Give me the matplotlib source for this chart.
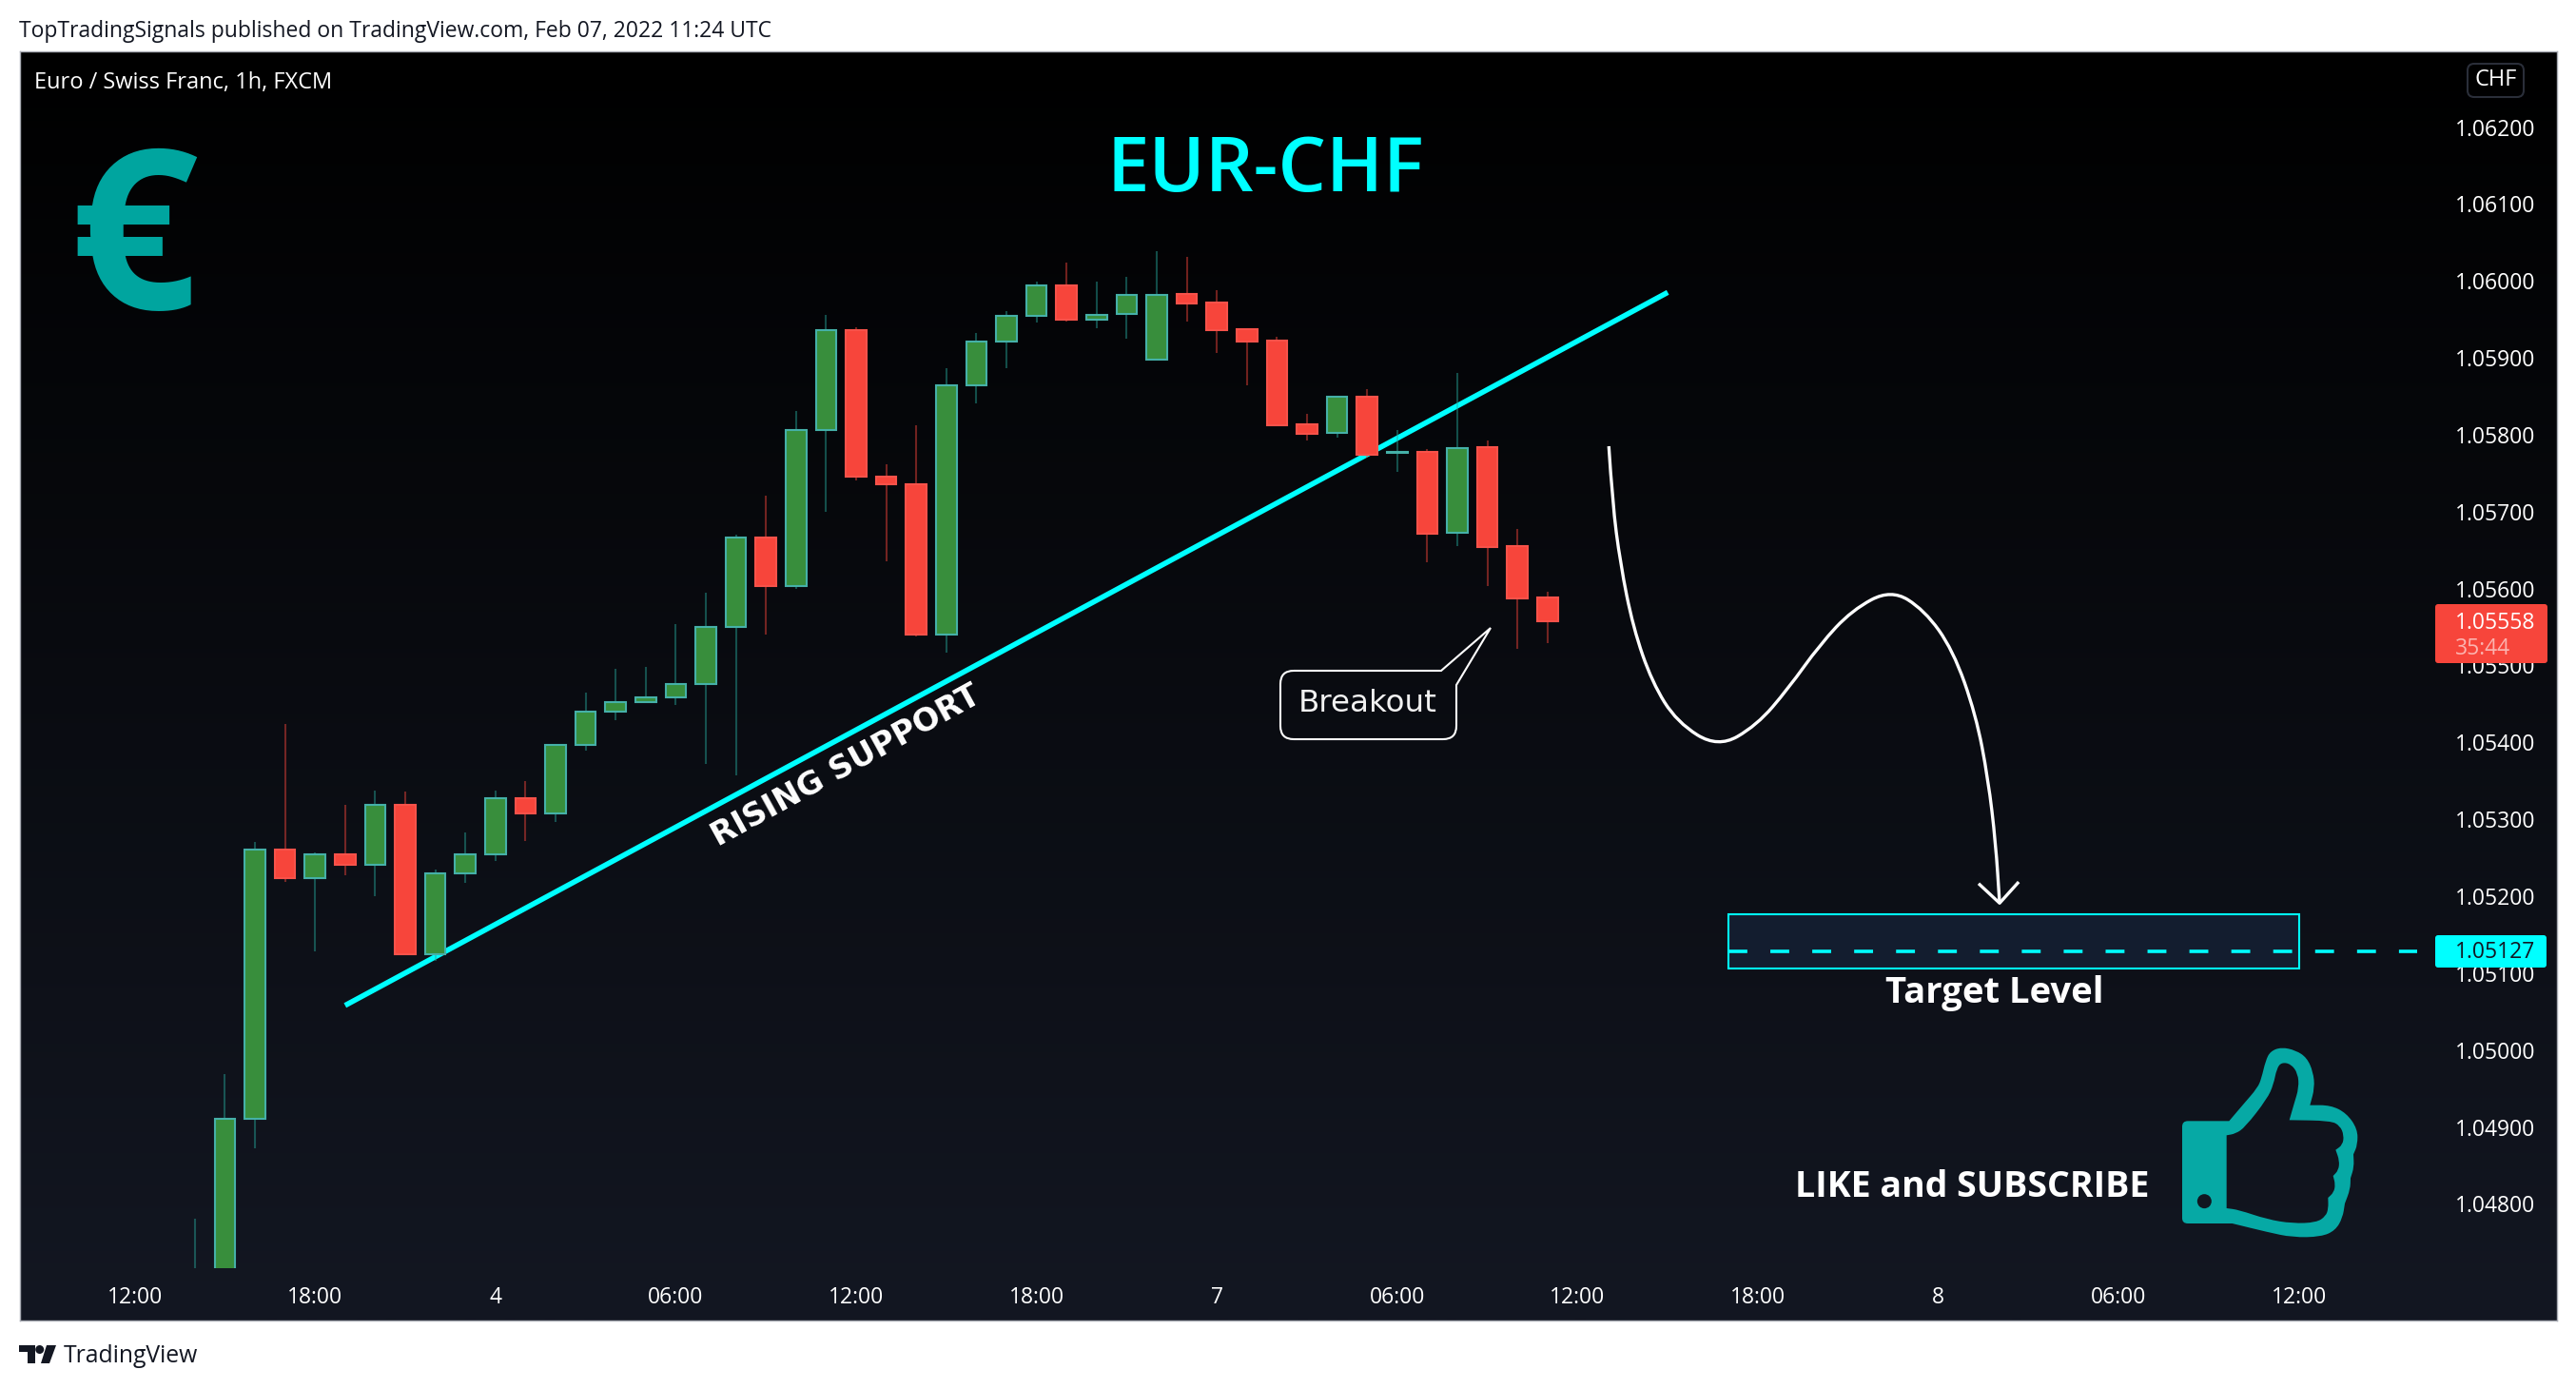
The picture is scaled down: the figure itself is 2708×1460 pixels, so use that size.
import numpy as np
import matplotlib
matplotlib.use('Agg')
import matplotlib.pyplot as plt
from matplotlib.path import Path
from matplotlib.patches import PathPatch, Rectangle, FancyBboxPatch, Circle, Polygon

plt.rcParams['font.family'] = ['Open Sans', 'DejaVu Sans']

W, H = 2708, 1460

# bar index 0 = first 12:00 tick, one bar per hour
bar_index = list(range(2, 48))
opens = [1.04640, 1.04700, 1.04911, 1.05261, 1.05224, 1.05254, 1.05241, 1.05319, 1.05125, 1.05230,
         1.05255, 1.05328, 1.05308, 1.05397, 1.05440, 1.05452, 1.05459, 1.05476, 1.05550, 1.05666,
         1.05603, 1.05806, 1.05936, 1.05746, 1.05736, 1.05540, 1.05864, 1.05921, 1.05955, 1.05994,
         1.05950, 1.05957, 1.05898, 1.05983, 1.05972, 1.05937, 1.05922, 1.05814, 1.05802, 1.05849,
         1.05776, 1.05778, 1.05673, 1.05784, 1.05655, 1.05588]
highs = [1.04781, 1.04969, 1.05271, 1.05424, 1.05257, 1.05319, 1.05337, 1.05336, 1.05235, 1.05283,
         1.05337, 1.05350, 1.05397, 1.05465, 1.05496, 1.05498, 1.05554, 1.05594, 1.05670, 1.05721,
         1.05831, 1.05956, 1.05940, 1.05762, 1.05812, 1.05887, 1.05932, 1.05961, 1.05999, 1.06024,
         1.05999, 1.06005, 1.06039, 1.06031, 1.05988, 1.05938, 1.05927, 1.05827, 1.05849, 1.05859,
         1.05806, 1.05781, 1.05880, 1.05793, 1.05677, 1.05596]
lows = [1.04600, 1.04680, 1.04872, 1.05218, 1.05128, 1.05227, 1.05200, 1.05125, 1.05116, 1.05217,
        1.05246, 1.05272, 1.05297, 1.05389, 1.05429, 1.05452, 1.05448, 1.05372, 1.05357, 1.05540,
        1.05600, 1.05700, 1.05741, 1.05635, 1.05538, 1.05517, 1.05841, 1.05887, 1.05946, 1.05947,
        1.05938, 1.05925, 1.05898, 1.05947, 1.05906, 1.05864, 1.05812, 1.05793, 1.05796, 1.05770,
        1.05752, 1.05634, 1.05655, 1.05603, 1.05522, 1.05529]
closes = [1.04700, 1.04911, 1.05261, 1.05224, 1.05254, 1.05241, 1.05319, 1.05125, 1.05230, 1.05255,
          1.05328, 1.05308, 1.05397, 1.05440, 1.05452, 1.05459, 1.05476, 1.05550, 1.05666, 1.05603,
          1.05806, 1.05936, 1.05746, 1.05736, 1.05540, 1.05864, 1.05921, 1.05955, 1.05994, 1.05950,
          1.05956, 1.05982, 1.05982, 1.05971, 1.05936, 1.05921, 1.05812, 1.05801, 1.05849, 1.05774,
          1.05777, 1.05671, 1.05783, 1.05654, 1.05587, 1.05558]

time_ticks = list(range(0, 73, 6))
time_labels = ['12:00', '18:00', '4', '06:00', '12:00', '18:00', '7', '06:00', '12:00', '18:00', '8', '06:00', '12:00']
price_ticks = [1.062, 1.061, 1.060, 1.059, 1.058, 1.057, 1.056, 1.055, 1.054, 1.053, 1.052, 1.051, 1.050, 1.049, 1.048]

trend_x = [7.0, 51.0]
trend_y = [1.05058, 1.05985]

target_price = 1.05128
target_box_x = [53.02, 72.0]
target_box_y = [1.05106, 1.05176]
target_line_end = 75.93

swing_x = [49.04, 49.16, 49.42, 49.85, 50.48, 51.31, 52.67, 53.96, 55.01, 56.06, 57.13, 58.43, 59.54, 60.49, 61.25, 61.66, 61.91, 62.04]
swing_y = [1.05785, 1.05712, 1.05633, 1.05549, 1.05478, 1.05426, 1.05393, 1.05422, 1.05470, 1.05527, 1.05572, 1.05599, 1.05572, 1.05520, 1.05436, 1.05352, 1.05269, 1.05191]
arrow_x = [61.38, 62.04, 62.64]
arrow_y = [1.05215, 1.05191, 1.05217]

GREEN = '#388e3c'
GREEN_EDGE = '#45b0a8'
GREEN_WICK = '#26a69a'
RED = '#f7453b'
CYAN = '#00ffff'
TEAL = '#06a9a5'
DARK = '#131722'


def smooth(pts, closed=False):
    # quadratic segments through midpoints, repeat a point to keep a sharp corner
    pts = np.asarray(pts, float)
    verts, codes = [], []
    if closed:
        start = (pts[-1] + pts[0]) / 2
        verts.append(start)
        codes.append(Path.MOVETO)
        for i in range(len(pts)):
            nxt = pts[(i + 1) % len(pts)]
            verts += [pts[i], (pts[i] + nxt) / 2]
            codes += [Path.CURVE3, Path.CURVE3]
    else:
        verts.append(pts[0])
        codes.append(Path.MOVETO)
        for i in range(1, len(pts) - 1):
            verts += [pts[i], (pts[i] + pts[i + 1]) / 2]
            codes += [Path.CURVE3, Path.CURVE3]
        verts.append(pts[-1])
        codes.append(Path.LINETO)
    return Path(verts, codes)


fig = plt.figure(figsize=(W / 100, H / 100), dpi=100, facecolor='white')

# panel background
bg = fig.add_axes([21 / W, (H - 1388) / H, (2688 - 21) / W, (1388 - 54) / H])
grad = np.linspace(0, 1, 256)[:, None, None] * np.array([[[0x13, 0x17, 0x22]]]) / 255
bg.imshow(grad, aspect='auto', extent=[0, 1, 0, 1], origin='upper', interpolation='bilinear')
bg.set_xticks([])
bg.set_yticks([])
for s in bg.spines.values():
    s.set_color('#a8abb3')
    s.set_linewidth(1)

ax = fig.add_axes([21 / W, (H - 1333) / H, (2558 - 21) / W, (1333 - 54) / H], zorder=2)
ax.patch.set_alpha(0)
ax.set_xlim((21 - 141.6) / 31.6, (2558 - 141.6) / 31.6)
ax.set_ylim(1.062 - (1333 - 133.5) / 80850, 1.062 + (133.5 - 54) / 80850)
for s in ax.spines.values():
    s.set_visible(False)

ax.plot(trend_x, trend_y, color=CYAN, lw=4, solid_capstyle='butt', zorder=2)

is_up = [c >= o for o, c in zip(opens, closes)]
ax.vlines(bar_index, lows, highs,
          colors=[(GREEN_WICK if u else RED) for u in is_up],
          linewidth=1.5, alpha=0.45, zorder=3)
ax.bar(bar_index, [abs(c - o) for o, c in zip(opens, closes)],
       bottom=[min(o, c) for o, c in zip(opens, closes)], width=0.68,
       color=[(GREEN if u else RED) for u in is_up],
       edgecolor=[(GREEN_EDGE if u else '#f7524a') for u in is_up],
       linewidth=1.5, zorder=4)

ax.add_patch(Rectangle((target_box_x[0], target_box_y[0]), target_box_x[1] - target_box_x[0],
                       target_box_y[1] - target_box_y[0], facecolor='#131d2f', edgecolor=CYAN, lw=1.5, zorder=1))
ax.plot([target_box_x[0], target_line_end], [target_price, target_price], color=CYAN, lw=2.6,
        dashes=(5.5, 6.7), dash_capstyle='butt', zorder=2)

ax.add_patch(PathPatch(smooth(list(zip(swing_x, swing_y))), fill=False, edgecolor='white', lw=2.4, zorder=5))
ax.plot(arrow_x, arrow_y, color='white', lw=2.4, solid_joinstyle='round', zorder=5)

ax.set_xticks(time_ticks, time_labels)
ax.set_yticks(price_ticks, ['%.5f' % p for p in price_ticks])
ax.tick_params(axis='x', length=0, pad=14, colors='white', labelsize=16.5)
ax.tick_params(axis='y', length=0, pad=16.5, colors='white', labelsize=16.5,
               left=False, labelleft=False, right=True, labelright=True)

# everything else is placed in pixels of the picture
ov = fig.add_axes([0, 0, 1, 1], zorder=3)
ov.set_xlim(0, W)
ov.set_ylim(H, 0)
ov.axis('off')

ov.text(20, 33, 'TopTradingSignals published on TradingView.com, Feb 07, 2022 11:24 UTC',
        fontsize=16.5, color=DARK, va='center', ha='left')
ov.text(36, 87, 'Euro / Swiss Franc, 1h, FXCM', fontsize=17, color='white', va='center', ha='left')
ov.text(1330, 180, 'EUR-CHF', fontsize=57.5, color=CYAN, weight='semibold', va='center', ha='center')
ov.text(141, 264, '€', fontsize=170, color='#00a59f', weight='bold', va='center', ha='center')
ov.text(889, 805, 'RISING SUPPORT', fontsize=24, color='white', weight='bold', family='DejaVu Sans',
        rotation=28.8, rotation_mode='anchor', va='center', ha='center')
ov.text(2097, 1044, 'Target Level', fontsize=27.5, color='white', weight='bold', va='center', ha='center')
ov.text(2073, 1248, 'LIKE and SUBSCRIBE', fontsize=27, color='white', weight='bold', va='center', ha='center')

# breakout callout
corner = 14
bx0, bx1, by0, by1 = 1346, 1531, 705, 777
call_verts = [(bx0 + corner, by0), (1515, by0), (1567, 660), (bx1, 720), (bx1, by1 - corner), (bx1, by1), (bx1 - corner, by1),
              (bx0 + corner, by1), (bx0, by1), (bx0, by1 - corner), (bx0, by0 + corner), (bx0, by0), (bx0 + corner, by0)]
call_codes = [Path.MOVETO, Path.LINETO, Path.LINETO, Path.LINETO, Path.LINETO, Path.CURVE3, Path.CURVE3,
              Path.LINETO, Path.CURVE3, Path.CURVE3, Path.LINETO, Path.CURVE3, Path.CURVE3]
ov.add_patch(PathPatch(Path(call_verts, call_codes), fill=False, edgecolor='white', lw=1.5, joinstyle='miter'))
ov.text(1438, 739, 'Breakout', fontsize=23.4, color='#f2f2f2', family='DejaVu Sans', va='center', ha='center')

# price labels
ov.add_patch(FancyBboxPatch((2560, 635), 118, 62, boxstyle='round,pad=0,rounding_size=3', facecolor=RED, edgecolor='none'))
ov.text(2581, 655, '1.05558', fontsize=16.5, color='white', va='center', ha='left')
ov.text(2581, 682, '35:44', fontsize=16.5, color='#fbb4b0', va='center', ha='left')
ov.add_patch(FancyBboxPatch((2560, 983), 117, 34, boxstyle='round,pad=0,rounding_size=3', facecolor=CYAN, edgecolor='none'))
ov.text(2581, 1001, '1.05127', fontsize=16.5, color=DARK, va='center', ha='left')
ov.add_patch(FancyBboxPatch((2594, 67), 59, 35, boxstyle='round,pad=0,rounding_size=7', facecolor='none', edgecolor='#2a2e39', lw=1.5))
ov.text(2623.5, 84, 'CHF', fontsize=17, color='white', va='center', ha='center')

# thumb icon, outline
thumb_outer = [(108, 265), (220, 265), (220, 265), (265, 212), (310, 160), (322, 130), (335, 75), (350, 45), (385, 32), (430, 42),
               (465, 65), (485, 110), (490, 160), (475, 215), (475, 215), (540, 215), (590, 240), (625, 290), (625, 340),
               (612, 370), (612, 370), (614, 410), (603, 445), (603, 445), (602, 480), (585, 525), (585, 525), (578, 570),
               (555, 610), (510, 630), (420, 632), (340, 615), (230, 588), (230, 588), (108, 588), (72, 588), (72, 555),
               (72, 555), (72, 300), (72, 300), (72, 265)]
thumb_inner = [(212, 310), (212, 310), (240, 305), (270, 285), (340, 195), (360, 150), (370, 100), (385, 80), (415, 85), (437, 115),
               (440, 160), (425, 210), (410, 262), (410, 262), (540, 264), (570, 280), (582, 310), (578, 340), (556, 356),
               (556, 356), (568, 390), (565, 420), (548, 438), (548, 438), (555, 465), (550, 490), (532, 507), (532, 507),
               (533, 540), (525, 565), (495, 585), (420, 588), (340, 575), (250, 545), (212, 540), (212, 540)]


def to_px(pts):
    return [(2270 + x / 3, 1090 + y / 3) for x, y in pts]


thumb = Path.make_compound_path(smooth(to_px(thumb_outer), closed=True), smooth(to_px(thumb_inner[::-1]), closed=True))
ov.add_patch(PathPatch(thumb, facecolor=TEAL, edgecolor='none'))
ov.add_patch(Circle((2270 + 142 / 3, 1090 + 518 / 3), 7.5, facecolor='#111620', edgecolor='none'))

# tradingview logo
ov.add_patch(Polygon([(20, 1414), (37, 1414), (37, 1433), (29, 1433), (29, 1421), (20, 1421)], facecolor=DARK, edgecolor='none'))
ov.add_patch(Circle((41.7, 1418.5), 4.5, facecolor=DARK, edgecolor='none'))
ov.add_patch(Polygon([(49, 1414), (59, 1414), (52, 1433), (43, 1433)], facecolor=DARK, edgecolor='none'))
ov.text(67, 1426, 'TradingView', fontsize=17.8, color=DARK, va='center', ha='left')

fig.savefig('out.png', dpi=100, facecolor='white')
